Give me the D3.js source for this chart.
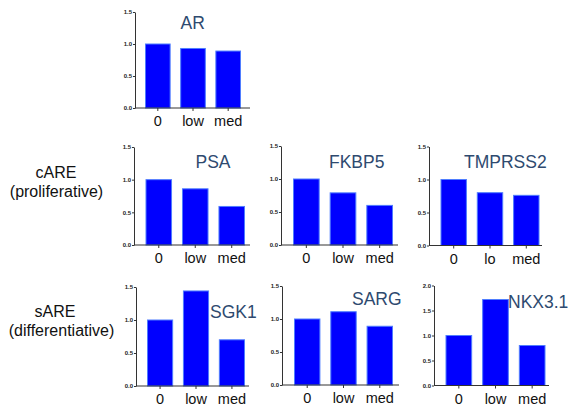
<!DOCTYPE html>
<html>
<head>
<meta charset="utf-8">
<script src="https://cdn.jsdelivr.net/npm/d3@7"></script>
<style>
  body { margin: 0; background: #fff; }
  svg { display: block; font-family: "Liberation Sans", Arial, Helvetica, sans-serif; }
</style>
</head>
<body>
<div id="chart"></div>
<script>
// categories (dose) and values
var categories = ["0", "low", "med"];
var categoriesTmprss2 = ["0", "lo", "med"];
var genes = ["AR", "PSA", "FKBP5", "TMPRSS2", "SGK1", "SARG", "NKX3.1"];

var arValues = [1.00, 0.93, 0.89];
var psaValues = [1.00, 0.86, 0.59];
var fkbp5Values = [1.00, 0.79, 0.60];
var tmprss2Values = [1.00, 0.80, 0.76];
var sgk1Values = [1.00, 1.44, 0.70];
var sargValues = [1.00, 1.11, 0.89];
var nkx31Values = [1.00, 1.72, 0.80];

var yTicksLow = [0, 0.5, 1.0, 1.5];
var yTicksHigh = [0, 0.5, 1.0, 1.5, 2.0];

var rowLabels = [["cARE", "(proliferative)"], ["sARE", "(differentiative)"]];

// style
var barFill = "#0000ff";
var barStroke = "#4f7dff";
var titleColor = "#2e4a6f";
var axisColor = "#333";

const width = 568;
const height = 408;

var svg = d3.select("#chart")
	.append("svg")
	.attr("width", width)
	.attr("height", height);

// layout of each small panel (axis x, axis end, top, bottom, bar span, title pos)
var panels = [
	{gene: genes[0], values: arValues, cats: categories, ticks: yTicksLow, max: 1.5,
	 ax: 135, axEnd: 250, top: 12, bottom: 108, b0: 145.5, b1: 240.5, tx: 180.5, ty: 29},
	{gene: genes[1], values: psaValues, cats: categories, ticks: yTicksLow, max: 1.5,
	 ax: 134, axEnd: 250, top: 147, bottom: 245, b0: 146, b1: 244.5, tx: 195.5, ty: 168},
	{gene: genes[2], values: fkbp5Values, cats: categories, ticks: yTicksLow, max: 1.5,
	 ax: 281, axEnd: 398, top: 146, bottom: 245, b0: 293.5, b1: 392.5, tx: 329, ty: 167.5},
	{gene: genes[3], values: tmprss2Values, cats: categoriesTmprss2, ticks: yTicksLow, max: 1.5,
	 ax: 429, axEnd: 542, top: 146.5, bottom: 245.5, b0: 441, b1: 539, tx: 464, ty: 167.5},
	{gene: genes[4], values: sgk1Values, cats: categories, ticks: yTicksLow, max: 1.5,
	 ax: 136, axEnd: 249, top: 287, bottom: 386, b0: 147.5, b1: 244.5, tx: 210, ty: 318},
	{gene: genes[5], values: sargValues, cats: categories, ticks: yTicksLow, max: 1.5,
	 ax: 282, axEnd: 399, top: 286, bottom: 385, b0: 294.5, b1: 392.5, tx: 352, ty: 304.5},
	{gene: genes[6], values: nkx31Values, cats: categories, ticks: yTicksHigh, max: 2.0,
	 ax: 434, axEnd: 549, top: 285.5, bottom: 385.5, b0: 446, b1: 545, tx: 508, ty: 308}
];

panels.forEach(function(p){
	var g = svg.append("g");

	var x = d3.scaleBand()
		.domain(p.cats)
		.range([p.b0, p.b1])
		.paddingInner(0.3)
		.paddingOuter(0);

	var y = d3.scaleLinear()
		.domain([0, p.max])
		.range([p.bottom, p.top]);

	var data = p.cats.map(function(c, i){ return {cat: c, value: p.values[i]}; });

	// bars
	g.selectAll("rect")
		.data(data)
		.enter().append("rect")
		.attr("x", function(d){ return x(d.cat); })
		.attr("y", function(d){ return y(d.value); })
		.attr("width", x.bandwidth())
		.attr("height", function(d){ return y(0) - y(d.value); })
		.attr("fill", barFill)
		.attr("stroke", barStroke)
		.attr("stroke-width", 1);

	// y axis
	var yAxis = g.append("g")
		.attr("transform", "translate(" + p.ax + ",0)")
		.call(d3.axisLeft(y).tickValues(p.ticks).tickFormat(d3.format(".1f"))
			.tickSizeInner(2).tickSizeOuter(0).tickPadding(1));
	yAxis.select(".domain").attr("stroke", axisColor);
	yAxis.selectAll(".tick line").attr("stroke", axisColor);
	yAxis.selectAll("text")
		.attr("font-size", 6)
		.attr("font-weight", "bold")
		.attr("fill", "#222")
		.attr("font-family", "Liberation Sans, Arial, sans-serif");

	// x axis
	var xAxis = g.append("g")
		.attr("transform", "translate(0," + p.bottom + ")")
		.call(d3.axisBottom(x).tickSizeInner(3).tickSizeOuter(0).tickPadding(5));
	xAxis.select(".domain").remove();
	xAxis.selectAll(".tick line").attr("stroke", axisColor);
	xAxis.selectAll("text")
		.attr("font-size", 14.5)
		.attr("fill", "#111")
		.attr("font-family", "Liberation Sans, Arial, sans-serif");
	g.append("line")
		.attr("x1", p.ax).attr("x2", p.axEnd)
		.attr("y1", p.bottom).attr("y2", p.bottom)
		.attr("stroke", axisColor);

	// gene title
	g.append("text")
		.attr("x", p.tx)
		.attr("y", p.ty)
		.attr("font-size", 17.5)
		.attr("fill", titleColor)
		.text(p.gene);
});

// row labels
var rowPos = [[56, 178, 56.5, 197], [55, 317, 61.5, 336]];
rowLabels.forEach(function(lbl, i){
	svg.append("text")
		.attr("x", rowPos[i][0]).attr("y", rowPos[i][1])
		.attr("text-anchor", "middle")
		.attr("font-size", 16)
		.attr("fill", "#111")
		.text(lbl[0]);
	svg.append("text")
		.attr("x", rowPos[i][2]).attr("y", rowPos[i][3])
		.attr("text-anchor", "middle")
		.attr("font-size", 16)
		.attr("fill", "#111")
		.text(lbl[1]);
});
</script>
</body>
</html>
